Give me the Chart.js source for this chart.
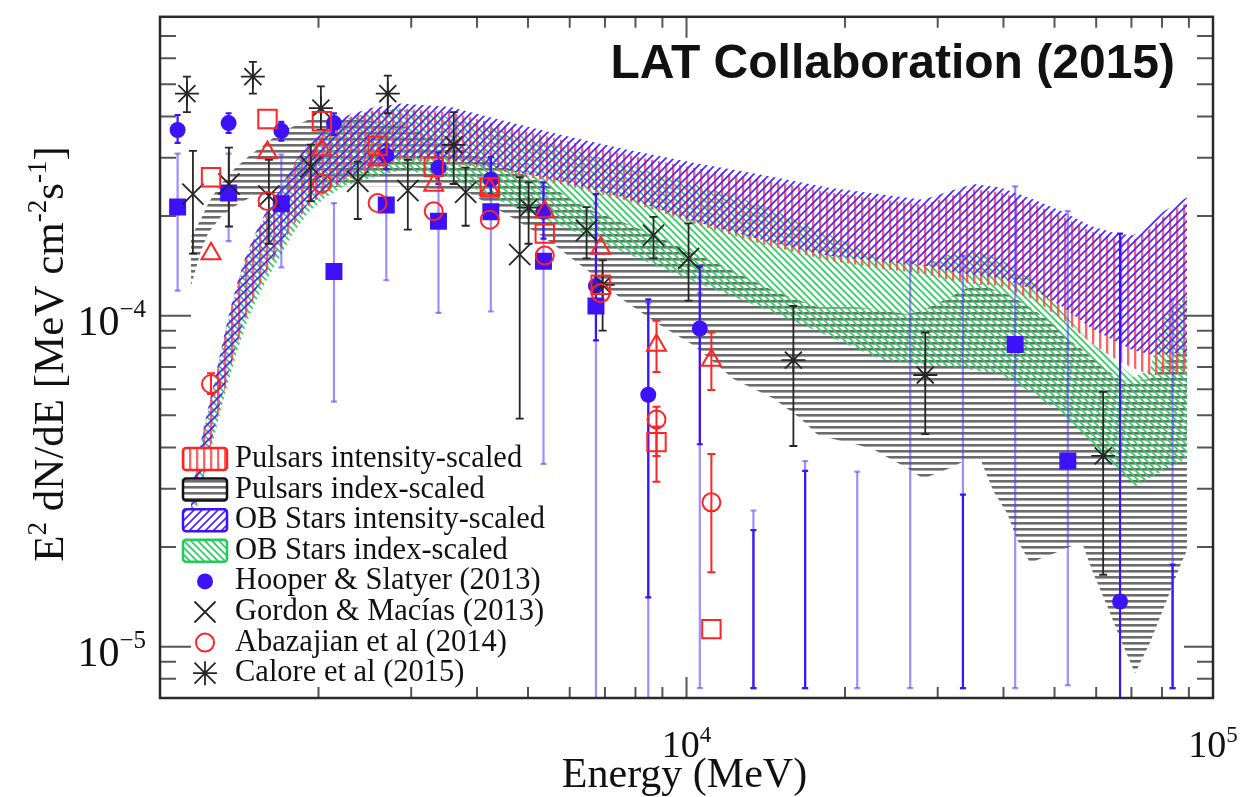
<!DOCTYPE html>
<html>
<head>
<meta charset="utf-8">
<script src="https://cdn.jsdelivr.net/npm/chart.js@4.4.1/dist/chart.umd.min.js"></script>
<style>
  html, body { margin: 0; padding: 0; background: #ffffff; }
  #wrap { width: 1244px; height: 797px; }
</style>
</head>
<body>
<div id="wrap"><canvas id="c" width="1244" height="797"></canvas></div>
<script>
// ---------------- Model bands (E^2 dN/dE, MeV cm^-2 s^-1) ----------------
const bandEnergy = [1145, 1175, 1207, 1239, 1272, 1305, 1352, 1400, 1456, 1521,
  1589, 1682, 1788, 1917, 2065, 2254, 2514, 2867, 3566, 4438,
  5768, 7727, 10310, 13816, 18517, 23343, 28170, 31700, 35050, 39440,
  45540, 51930, 58430, 65740, 70520, 75940, 80370, 89280];

const obIntensityUpper = [2.86e-5, 3.64e-5, 4.47e-5, 5.42e-5, 6.48e-5, 7.86e-5, 1.01e-4, 1.25e-4, 1.52e-4, 1.79e-4,
  2.06e-4, 2.39e-4, 2.86e-4, 3.33e-4, 3.74e-4, 4.01e-4, 4.24e-4, 4.38e-4, 4.27e-4, 3.90e-4,
  3.52e-4, 3.17e-4, 2.90e-4, 2.67e-4, 2.44e-4, 2.33e-4, 2.24e-4, 2.38e-4, 2.50e-4, 2.44e-4,
  2.25e-4, 2.06e-4, 1.87e-4, 1.77e-4, 1.75e-4, 1.90e-4, 2.06e-4, 2.28e-4];
const obIntensityLower = [2.62e-5, 2.77e-5, 3.29e-5, 3.93e-5, 4.66e-5, 5.53e-5, 6.80e-5, 8.30e-5, 1.01e-4, 1.19e-4,
  1.37e-4, 1.61e-4, 1.91e-4, 2.19e-4, 2.41e-4, 2.61e-4, 2.81e-4, 3.02e-4, 2.96e-4, 2.78e-4,
  2.55e-4, 2.26e-4, 1.93e-4, 1.70e-4, 1.52e-4, 1.46e-4, 1.42e-4, 1.36e-4, 1.33e-4, 1.30e-4,
  1.20e-4, 1.06e-4, 9.21e-5, 8.31e-5, 7.86e-5, 7.65e-5, 7.65e-5, 7.76e-5];

const pulsarIntensityUpper = [2.83e-5, 3.60e-5, 4.42e-5, 5.36e-5, 6.41e-5, 7.78e-5, 1.00e-4, 1.24e-4, 1.50e-4, 1.77e-4,
  2.03e-4, 2.36e-4, 2.82e-4, 3.28e-4, 3.68e-4, 3.95e-4, 4.16e-4, 4.23e-4, 4.12e-4, 3.76e-4,
  3.40e-4, 3.06e-4, 2.80e-4, 2.58e-4, 2.36e-4, 2.25e-4, 2.16e-4, 2.30e-4, 2.41e-4, 2.36e-4,
  2.17e-4, 1.99e-4, 1.80e-4, 1.71e-4, 1.69e-4, 1.83e-4, 1.99e-4, 2.20e-4];
const pulsarIntensityLower = [2.58e-5, 2.71e-5, 3.22e-5, 3.85e-5, 4.57e-5, 5.42e-5, 6.67e-5, 8.14e-5, 9.86e-5, 1.17e-4,
  1.34e-4, 1.58e-4, 1.87e-4, 2.15e-4, 2.36e-4, 2.56e-4, 2.75e-4, 2.96e-4, 2.90e-4, 2.73e-4,
  2.50e-4, 2.22e-4, 1.90e-4, 1.65e-4, 1.47e-4, 1.39e-4, 1.34e-4, 1.28e-4, 1.25e-4, 1.23e-4,
  1.12e-4, 9.73e-5, 8.31e-5, 7.34e-5, 6.95e-5, 6.62e-5, 6.67e-5, 6.76e-5];

const obIndexUpper = [2.77e-5, 3.57e-5, 4.38e-5, 5.31e-5, 6.35e-5, 7.70e-5, 9.86e-5, 1.22e-4, 1.49e-4, 1.76e-4,
  2.02e-4, 2.35e-4, 2.80e-4, 3.26e-4, 3.67e-4, 3.93e-4, 4.12e-4, 4.21e-4, 3.98e-4, 3.64e-4,
  3.24e-4, 2.86e-4, 2.50e-4, 2.17e-4, 1.77e-4, 1.49e-4, 1.42e-4, 1.54e-4, 1.58e-4, 1.49e-4,
  1.27e-4, 1.02e-4, 8.31e-5, 7.24e-5, 6.53e-5, 6.85e-5, 9.86e-5, 1.15e-4];
const obIndexLower = [2.55e-5, 2.64e-5, 3.13e-5, 3.72e-5, 4.41e-5, 5.20e-5, 6.40e-5, 7.76e-5, 9.40e-5, 1.11e-4,
  1.27e-4, 1.49e-4, 1.77e-4, 2.06e-4, 2.28e-4, 2.48e-4, 2.60e-4, 2.75e-4, 2.62e-4, 2.22e-4,
  1.87e-4, 1.54e-4, 1.27e-4, 1.06e-4, 8.72e-5, 7.39e-5, 7.09e-5, 7.00e-5, 6.85e-5, 6.67e-5,
  5.81e-5, 5.03e-5, 4.18e-5, 3.47e-5, 3.02e-5, 3.24e-5, 3.40e-5, 3.72e-5];

const pulsarIndexEnergy = [1145, 1196, 1233, 1266, 1305, 1382, 1406, 1488, 1603, 1697,
  1909, 2254, 2867, 3841, 4634, 5354, 6488, 7496, 8928, 10310,
  11450, 12280, 14630, 16460, 17730, 19010, 20930, 22640, 24390, 26270,
  28170, 29950, 31700, 34280, 36140, 38240, 40650, 42480, 44960, 47590,
  50140, 52840, 56410, 59200, 62930, 66600, 71120, 75940, 81770, 86560, 89280];
const pulsarIndexUpper = [1.73e-4, 1.96e-4, 2.17e-4, 2.33e-4, 2.50e-4, 2.77e-4, 2.84e-4, 3.07e-4, 3.35e-4, 3.59e-4,
  3.90e-4, 3.98e-4, 3.77e-4, 3.13e-4, 2.77e-4, 2.53e-4, 2.10e-4, 1.93e-4, 1.72e-4, 1.54e-4,
  1.44e-4, 1.36e-4, 1.19e-4, 1.11e-4, 1.06e-4, 1.06e-4, 1.06e-4, 1.05e-4, 1.03e-4, 1.01e-4,
  1.04e-4, 1.09e-4, 1.14e-4, 1.22e-4, 1.25e-4, 1.20e-4, 1.16e-4, 1.12e-4, 1.06e-4, 9.93e-5,
  9.34e-5, 8.54e-5, 7.92e-5, 7.39e-5, 6.85e-5, 6.40e-5, 6.35e-5, 6.44e-5, 7.34e-5, 7.76e-5, 7.92e-5];
const pulsarIndexLower = [1.23e-4, 1.57e-4, 1.77e-4, 1.87e-4, 1.99e-4, 2.13e-4, 2.17e-4, 2.28e-4, 2.33e-4, 2.36e-4,
  2.41e-4, 2.46e-4, 2.46e-4, 2.36e-4, 1.99e-4, 1.73e-4, 1.37e-4, 1.13e-4, 9.34e-5, 8.14e-5,
  7.09e-5, 6.44e-5, 5.62e-5, 4.89e-5, 4.38e-5, 4.24e-5, 4.09e-5, 3.95e-5, 3.69e-5, 3.47e-5,
  3.22e-5, 3.35e-5, 3.47e-5, 3.69e-5, 3.69e-5, 2.96e-5, 2.53e-5, 2.10e-5, 1.79e-5, 1.86e-5,
  1.92e-5, 1.99e-5, 2.06e-5, 1.67e-5, 1.33e-5, 1.06e-5, 8.31e-6, 1.03e-5, 1.39e-5, 1.75e-5, 1.96e-5];

// ---------------- Measured spectra ----------------
const hsEnergy = [1080, 1350, 1700, 2140, 2690, 3380, 4250, 5350, 6730, 8460,
  10600, 13400, 16800, 21100, 26600, 33500, 42100, 53000, 66600, 83800];
const hsCircle   = [3.64e-4, 3.82e-4, 3.62e-4, 3.82e-4, 3.05e-4, 2.80e-4, 2.58e-4, 2.06e-4, 1.23e-4, 5.77e-5,
  9.15e-5, null, null, null, null, null, null, null, 1.37e-5, null];
const hsCircleLo = [3.33e-4, 3.57e-4, 3.38e-4, 3.52e-4, 2.77e-4, 2.50e-4, 2.33e-4, 1.71e-4, 8.42e-5, 1.41e-5,
  4.09e-5, 7.5e-6, 7.5e-6, null, null, 7.5e-6, null, null, 5e-6, 7.5e-6];
const hsCircleHi = [4.04e-4, 4.09e-4, 3.85e-4, 4.09e-4, 3.29e-4, 3.11e-4, 3.02e-4, 2.53e-4, 2.33e-4, 1.12e-4,
  1.41e-4, 2.25e-5, 3.40e-5, null, null, 2.88e-5, null, null, 1.77e-4, 1.77e-5];
const hsSquare   = [2.13e-4, 2.35e-4, 2.18e-4, 1.36e-4, 2.16e-4, 1.93e-4, 2.06e-4, 1.46e-4, 1.07e-4, null,
  null, null, null, null, null, null, 8.19e-5, 3.64e-5, null, null];
const hsSquareLo = [1.19e-4, 1.68e-4, 1.40e-4, 5.50e-5, 1.28e-4, 1.02e-4, 1.03e-4, 3.57e-5, 5e-6, 5e-6,
  7.5e-6, 7.5e-6, 7.5e-6, 7.5e-6, 7.5e-6, 7.5e-6, 7.5e-6, 7.65e-6, null, 7.5e-6];
const hsSquareHi = [3.09e-4, 3.09e-4, 3.07e-4, 2.19e-4, 3.07e-4, 2.67e-4, 2.86e-4, 2.46e-4, 2.18e-4, 1.09e-4,
  1.17e-4, 2.58e-5, 3.64e-5, 3.38e-5, 1.46e-4, 1.52e-4, 2.46e-4, 2.07e-4, null, 1.12e-4];

const gmEnergy = [1155, 1352, 1610, 1934, 2375, 2956, 3807, 4822, 6460, 8657, 10090];
const gmFlux = [2.33e-4, 2.50e-4, 2.30e-4, 2.82e-4, 2.55e-4, 2.39e-4, 2.36e-4, 1.53e-4, 1.81e-4, 1.75e-4, 1.49e-4];
const gmLo   = [1.54e-4, 1.86e-4, 1.65e-4, 2.22e-4, 1.96e-4, 1.82e-4, 1.87e-4, 4.89e-5, 1.49e-4, 1.49e-4, 1.11e-4];
const gmHi   = [3.15e-4, 3.22e-4, 2.96e-4, 3.29e-4, 2.92e-4, 2.96e-4, 2.80e-4, 2.62e-4, 2.13e-4, 1.99e-4, 1.90e-4];

const abEnergy = [1250, 1600, 2030, 2590, 3310, 4230, 5380, 6870, 8770, 11150];
const abCircle   = [6.22e-5, 2.22e-4, 2.51e-4, 2.19e-4, 2.07e-4, 1.95e-4, 1.52e-4, 1.17e-4, 4.86e-5, 2.73e-5];
const abCircleLo = [5.8e-5, null, null, null, null, null, null, null, 3.77e-5, 1.68e-5];
const abCircleHi = [6.7e-5, null, null, null, null, null, null, null, 5.31e-5, 3.82e-5];
const abSquare   = [2.62e-4, 3.93e-4, 3.87e-4, 3.26e-4, 2.82e-4, 2.44e-4, 1.77e-4, 1.24e-4, 4.15e-5, 1.13e-5];
const abSquareLo = [null, null, null, null, null, null, null, null, 3.15e-5, null];
const abSquareHi = [null, null, null, null, null, null, null, null, 4.63e-5, null];
const abTriangle   = [1.54e-4, 3.11e-4, 3.17e-4, 2.96e-4, 2.48e-4, 2.41e-4, 2.06e-4, 1.60e-4, 8.14e-5, 7.34e-5];
const abTriangleLo = [null, null, null, null, null, null, null, null, 6.76e-5, 5.97e-5];
const abTriangleHi = [null, null, null, null, null, null, null, null, 9.66e-5, 8.90e-5];

const caEnergy = [1125, 1501, 2021, 2708, 3613, 5013, 6929, 15960, 28410, 61860];
const caFlux = [4.69e-4, 5.28e-4, 4.24e-4, 4.69e-4, 3.28e-4, 2.12e-4, 1.24e-4, 7.34e-5, 6.62e-5, 3.77e-5];
const caLo   = [4.12e-4, 4.69e-4, 3.64e-4, 4.09e-4, 2.50e-4, 1.65e-4, 9.02e-5, 4.04e-5, 4.39e-5, 1.65e-5];
const caHi   = [5.28e-4, 5.85e-4, 4.93e-4, 5.31e-4, 4.12e-4, 2.53e-4, 1.47e-4, 1.07e-4, 8.90e-5, 5.89e-5];

// ---------------- Text ----------------
const headerText = 'LAT Collaboration (2015)';
const xAxisTitle = 'Energy (MeV)';
const yAxisTitle = [['E', false], ['2', true], [' dN/dE [MeV cm', false], ['-2', true], ['s', false], ['-1', true], [']', false]];
const xTickLabels = [{ value: 1e4, base: '10', exp: '4' }, { value: 1e5, base: '10', exp: '5' }];
const yTickLabels = [{ value: 1e-4, base: '10', exp: '\u22124' }, { value: 1e-5, base: '10', exp: '\u22125' }];
const legendLabels = ['Pulsars intensity-scaled', 'Pulsars index-scaled', 'OB Stars intensity-scaled', 'OB Stars index-scaled',
  'Hooper & Slatyer (2013)', 'Gordon & Mac\u00edas (2013)', 'Abazajian et al (2014)', 'Calore et al (2015)'];

// ---------------- Styling helpers ----------------
const SERIF = '"Liberation Serif", "Times New Roman", serif';
const SANS = '"Liberation Sans", Arial, sans-serif';
const BLUE = '#3d12fa';
const BLUE_LIGHT = 'rgba(80, 50, 255, 0.55)';
const RED = '#ff2424';
const BLACK = '#262626';

function hatch(kind, color) {
  const c = document.createElement('canvas');
  const g = c.getContext('2d');
  if (kind === 'vertical') {
    c.width = 7; c.height = 4;
    g.fillStyle = color; g.fillRect(0, 0, 2.3, 4);
  } else if (kind === 'horizontal') {
    c.width = 4; c.height = 6;
    g.fillStyle = color; g.fillRect(0, 0, 4, 2.6);
  } else {
    const s = kind === 'slash' ? 8 : 7;
    c.width = s; c.height = s;
    g.strokeStyle = color; g.lineWidth = 1.7; g.lineCap = 'square';
    g.beginPath();
    if (kind === 'slash') {
      g.moveTo(-1, 1); g.lineTo(1, -1);
      g.moveTo(0, s); g.lineTo(s, 0);
      g.moveTo(s - 1, s + 1); g.lineTo(s + 1, s - 1);
    } else {
      g.moveTo(-1, s - 1); g.lineTo(1, s + 1);
      g.moveTo(0, 0); g.lineTo(s, s);
      g.moveTo(s - 1, -1); g.lineTo(s + 1, 1);
    }
    g.stroke();
  }
  return g.createPattern(c, 'repeat');
}

const patRed = hatch('vertical', 'rgba(255, 70, 70, 0.85)');
const patBlack = hatch('horizontal', 'rgba(45, 45, 45, 0.7)');
const patBlue = hatch('slash', '#4a26ff');
const patGreen = hatch('backslash', '#2fcf62');

const pairs = (xs, ys) => xs.map((x, i) => ({ x, y: ys[i] }));

function bandDatasets(label, energy, upper, lower, pattern, order) {
  const base = { type: 'line', borderColor: 'rgba(0,0,0,0)', borderWidth: 0, pointRadius: 0, tension: 0, order };
  return [
    Object.assign({}, base, { label: label + ' (upper)', data: pairs(energy, upper), fill: false }),
    Object.assign({}, base, { label, data: pairs(energy, lower), fill: '-1', backgroundColor: pattern })
  ];
}

function errorBars(label, energy, lo, hi, color, width, cap, order) {
  const data = [];
  energy.forEach((e, i) => {
    if (lo[i] == null || hi[i] == null) return;
    data.push({ x: e, y: lo[i] }, { x: e, y: hi[i] }, { x: e, y: null });
  });
  return {
    type: 'line', label: label + ' errors', data, spanGaps: false,
    borderColor: color, borderWidth: width, tension: 0, fill: false,
    pointStyle: 'line', pointRadius: cap, pointBorderColor: color, pointBorderWidth: width,
    pointBackgroundColor: color, order
  };
}

function markers(label, energy, flux, style, radius, fillColor, strokeColor, lineWidth, order) {
  return {
    type: 'scatter', label, data: pairs(energy, flux), showLine: false,
    pointStyle: style, pointRadius: radius, pointBackgroundColor: fillColor,
    pointBorderColor: strokeColor, pointBorderWidth: lineWidth, order
  };
}

const datasets = [
  ...bandDatasets(legendLabels[1], pulsarIndexEnergy, pulsarIndexUpper, pulsarIndexLower, patBlack, 20),
  ...bandDatasets(legendLabels[3], bandEnergy, obIndexUpper, obIndexLower, patGreen, 19),
  ...bandDatasets(legendLabels[0], bandEnergy, pulsarIntensityUpper, pulsarIntensityLower, patRed, 18),
  ...bandDatasets(legendLabels[2], bandEnergy, obIntensityUpper, obIntensityLower, patBlue, 17),
  errorBars('HS squares', hsEnergy, hsSquareLo, hsSquareHi, BLUE_LIGHT, 2.2, 3, 12),
  errorBars('HS circles', hsEnergy, hsCircleLo, hsCircleHi, BLUE, 2.2, 3, 11),
  errorBars(legendLabels[5], gmEnergy, gmLo, gmHi, BLACK, 1.8, 4, 10),
  errorBars(legendLabels[7], caEnergy, caLo, caHi, BLACK, 1.8, 4, 10),
  errorBars('Abazajian circles', abEnergy, abCircleLo, abCircleHi, RED, 2, 4, 10),
  errorBars('Abazajian squares', abEnergy, abSquareLo, abSquareHi, RED, 2, 4, 10),
  errorBars('Abazajian triangles', abEnergy, abTriangleLo, abTriangleHi, RED, 2, 4, 10),
  markers('Hooper & Slatyer squares', hsEnergy, hsSquare, 'rect', 12, BLUE, BLUE, 0, 6),
  markers(legendLabels[4], hsEnergy, hsCircle, 'circle', 8, BLUE, BLUE, 0, 5),
  markers(legendLabels[5], gmEnergy, gmFlux, 'crossRot', 15, BLACK, BLACK, 1.8, 4),
  markers(legendLabels[7], caEnergy, caFlux, 'star', 12, BLACK, BLACK, 1.8, 4),
  markers('Abazajian squares', abEnergy, abSquare, 'rect', 13, 'rgba(0,0,0,0)', RED, 2, 3),
  markers('Abazajian triangles', abEnergy, abTriangle, 'triangle', 11, 'rgba(0,0,0,0)', RED, 2, 3),
  markers(legendLabels[6], abEnergy, abCircle, 'circle', 9, 'rgba(0,0,0,0)', RED, 2, 2)
];

// ---------------- Decorations: frame, inward ticks, labels, legend ----------------
const isPow10 = v => Math.abs(Math.log10(v) - Math.round(Math.log10(v))) < 1e-6;
const isWholeMantissa = v => {
  const e = Math.floor(Math.log10(v) + 1e-9);
  const m = v / Math.pow(10, e);
  return Math.abs(m - Math.round(m)) < 1e-6;
};

function richText(ctx, segs, x, y, baseFont, supFont, rise, align) {
  let total = 0;
  segs.forEach(([t, sup]) => { ctx.font = sup ? supFont : baseFont; total += ctx.measureText(t).width; });
  let cx = align === 'center' ? x - total / 2 : (align === 'right' ? x - total : x);
  ctx.textAlign = 'left';
  ctx.textBaseline = 'alphabetic';
  segs.forEach(([t, sup]) => {
    ctx.font = sup ? supFont : baseFont;
    ctx.fillText(t, cx, sup ? y - rise : y);
    cx += ctx.measureText(t).width;
  });
}

function legendMarker(ctx, kind, x, y) {
  ctx.save();
  ctx.beginPath();
  if (kind === 'dot') {
    ctx.fillStyle = BLUE; ctx.arc(x, y, 8, 0, Math.PI * 2); ctx.fill();
  } else if (kind === 'ring') {
    ctx.strokeStyle = RED; ctx.lineWidth = 2; ctx.arc(x, y, 9, 0, Math.PI * 2); ctx.stroke();
  } else {
    ctx.strokeStyle = BLACK; ctx.lineWidth = 1.8;
    const d = 10.5;
    ctx.moveTo(x - d, y - d); ctx.lineTo(x + d, y + d);
    ctx.moveTo(x + d, y - d); ctx.lineTo(x - d, y + d);
    if (kind === 'star') {
      ctx.moveTo(x, y - 12); ctx.lineTo(x, y + 12);
      ctx.moveTo(x - 12, y); ctx.lineTo(x + 12, y);
    }
    ctx.stroke();
  }
  ctx.restore();
}

const decorations = {
  id: 'decorations',
  afterDraw(chart) {
    const { ctx, chartArea: a } = chart;
    const xs = chart.scales.x, ys = chart.scales.y;
    ctx.save();

    // inward ticks on all four sides
    ctx.strokeStyle = '#555'; ctx.lineWidth = 2;
    ctx.beginPath();
    xs.ticks.forEach(t => {
      if (!isWholeMantissa(t.value)) return;
      const px = xs.getPixelForValue(t.value);
      if (px <= a.left + 1 || px >= a.right - 1) return;
      const len = isPow10(t.value) ? 21 : 11;
      ctx.moveTo(px, a.bottom); ctx.lineTo(px, a.bottom - len);
      ctx.moveTo(px, a.top); ctx.lineTo(px, a.top + len);
    });
    ys.ticks.forEach(t => {
      if (!isWholeMantissa(t.value)) return;
      const py = ys.getPixelForValue(t.value);
      if (py >= a.bottom - 1 || py <= a.top + 1) return;
      const major = isPow10(t.value);
      ctx.moveTo(a.left, py); ctx.lineTo(a.left + (major ? 31 : 16), py);
      ctx.moveTo(a.right, py); ctx.lineTo(a.right - (major ? 29 : 16), py);
    });
    ctx.stroke();

    // frame
    ctx.strokeStyle = '#2a2a2a'; ctx.lineWidth = 2.5;
    ctx.strokeRect(a.left, a.top, a.right - a.left, a.bottom - a.top);

    // tick labels
    ctx.fillStyle = '#111';
    xTickLabels.forEach(l => {
      const px = xs.getPixelForValue(l.value);
      richText(ctx, [[l.base, false], [l.exp, true]], px, a.bottom + 59, '38px ' + SERIF, '23px ' + SERIF, 15, 'center');
    });
    yTickLabels.forEach(l => {
      const py = ys.getPixelForValue(l.value);
      richText(ctx, [[l.base, false], [l.exp, true]], a.left - 14, py + 19, '42px ' + SERIF, '25px ' + SERIF, 18, 'right');
    });

    // axis titles
    richText(ctx, [[xAxisTitle, false]], (a.left + a.right) / 2 - 2, 787, '42px ' + SERIF, '42px ' + SERIF, 0, 'center');
    ctx.save();
    ctx.translate(63, 354);
    ctx.rotate(-Math.PI / 2);
    richText(ctx, yAxisTitle, 0, 0, '43px ' + SERIF, '27px ' + SERIF, 17, 'center');
    ctx.restore();

    // header
    ctx.font = 'bold 48px ' + SANS;
    ctx.textAlign = 'right'; ctx.textBaseline = 'alphabetic';
    ctx.fillText(headerText, 1175, 78);

    // legend
    const lx = 183, lw = 44, lh = 22, textX = 235, y0 = 459, dy = 30.6;
    const swatches = [[patRed, RED], [patBlack, '#111'], [patBlue, BLUE], [patGreen, '#22cc55']];
    const marks = ['dot', 'cross', 'ring', 'star'];
    legendLabels.forEach((label, i) => {
      const cy = y0 + i * dy;
      if (i < 4) {
        const [pat, border] = swatches[i];
        ctx.save();
        ctx.beginPath();
        ctx.roundRect(lx, cy - lh / 2, lw, lh, 3);
        ctx.fillStyle = '#ffffff'; ctx.fill();
        ctx.fillStyle = pat; ctx.fill();
        ctx.strokeStyle = border; ctx.lineWidth = 2.5; ctx.stroke();
        ctx.restore();
      } else {
        legendMarker(ctx, marks[i - 4], lx + lw / 2, cy);
      }
      ctx.fillStyle = '#111';
      ctx.font = '30.5px ' + SERIF;
      ctx.textAlign = 'left'; ctx.textBaseline = 'alphabetic';
      ctx.fillText(label, textX, cy + 8);
    });
    ctx.restore();
  }
};

new Chart(document.getElementById('c'), {
  data: { datasets },
  options: {
    responsive: false,
    animation: false,
    devicePixelRatio: 1,
    layout: { padding: { top: 11, right: 31, left: 0, bottom: 0 } },
    plugins: { legend: { display: false }, tooltip: { enabled: false }, title: { display: false } },
    scales: {
      x: {
        type: 'logarithmic', min: 1000, max: 100000, position: 'bottom',
        grid: { display: false }, border: { display: false }, ticks: { display: false },
        afterFit(scale) { scale.height = 99; }
      },
      y: {
        type: 'logarithmic', min: 7e-6, max: 8e-4, position: 'left',
        grid: { display: false }, border: { display: false }, ticks: { display: false },
        afterFit(scale) { scale.width = 160; }
      }
    }
  },
  plugins: [decorations]
});
</script>
</body>
</html>
